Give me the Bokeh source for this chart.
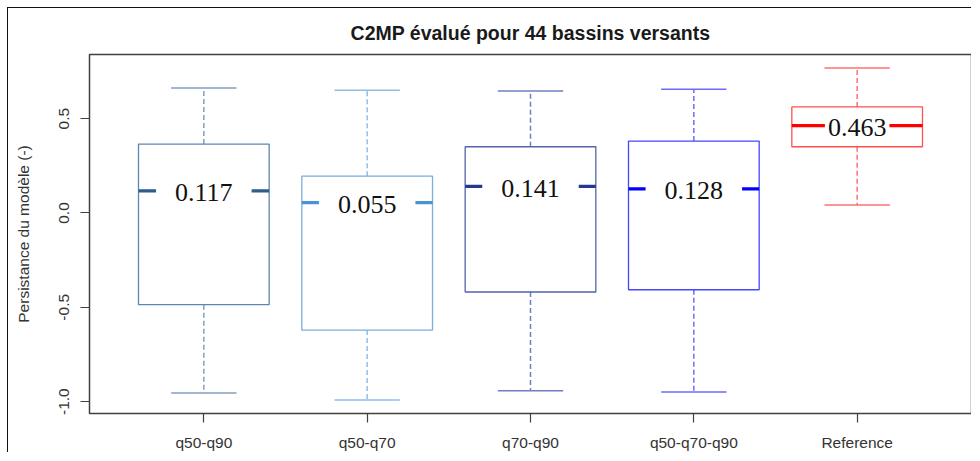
from bokeh.plotting import figure
from bokeh.models import FixedTicker, NumeralTickFormatter, Range1d, ColumnDataSource
from bokeh.embed import file_html
from bokeh.resources import INLINE
from bokeh.core.properties import value

# ---- data ----
categories = ["q50-q90", "q50-q70", "q70-q90", "q50-q70-q90", "Reference"]
whisker_low = [-0.954, -0.991, -0.942, -0.949, 0.042]
q1 = [-0.486, -0.621, -0.419, -0.407, 0.351]
medians = [0.117, 0.055, 0.141, 0.128, 0.463]
q3 = [0.365, 0.195, 0.351, 0.381, 0.562]
whisker_high = [0.662, 0.651, 0.647, 0.656, 0.768]
median_labels = ["0.117", "0.055", "0.141", "0.128", "0.463"]
y_ticks = [-1.0, -0.5, 0.0, 0.5]

# ---- styles ----
line_colors = ["#5f86b0", "#79aede", "#5264aa", "#4646ff", "#ff5050"]
whisker_colors = ["#7f9fc2", "#8fbde6", "#6f7fbf", "#6a6aff", "#ff7070"]
median_colors = ["#2d5d8c", "#4a92d4", "#263a8c", "#0000ff", "#ff0000"]
FONT = "Liberation Sans"
BOX_W = 0.8
CAP_W = 0.4

xs = [i + 1 for i in range(len(categories))]
src = ColumnDataSource(dict(
    x=xs, lo=whisker_low, q1=q1, med=medians, q3=q3, hi=whisker_high,
    lab=median_labels, lc=line_colors, wc=whisker_colors, mc=median_colors,
    bl=[x - BOX_W / 2 for x in xs], br=[x + BOX_W / 2 for x in xs],
    cl=[x - CAP_W / 2 for x in xs], cr=[x + CAP_W / 2 for x in xs],
))

p = figure(
    width=964, height=445,
    min_border_left=81, min_border_top=46, min_border_right=1, min_border_bottom=37,
    x_range=Range1d(0.3, len(categories) + 0.7),
    y_range=Range1d(-1.063, 0.84),
    output_backend="svg", toolbar_location=None,
    title="C2MP évalué pour 44 bassins versants",
)
# outer frame of the picture (left and top edges)
p.styles = {"margin-left": "7px", "margin-top": "7px",
            "border-left": "1px solid #111", "border-top": "1px solid #111"}

p.background_fill_color = "white"
p.border_fill_color = "white"
p.outline_line_color = "#404040"
p.outline_line_width = 1.5
p.grid.visible = False

p.title.align = "center"
p.title.text_font = FONT
p.title.text_font_size = "19.5px"
p.title.text_color = "#1a1a1a"
p.title.standoff = 22

# whiskers (dashed)
p.segment(x0="x", y0="q3", x1="x", y1="hi", source=src, line_color="wc",
          line_dash="5 3", line_width=1.5)
p.segment(x0="x", y0="q1", x1="x", y1="lo", source=src, line_color="wc",
          line_dash="5 3", line_width=1.5)
# caps
p.segment(x0="cl", y0="hi", x1="cr", y1="hi", source=src, line_color="wc", line_width=1.5)
p.segment(x0="cl", y0="lo", x1="cr", y1="lo", source=src, line_color="wc", line_width=1.5)
# boxes
p.quad(left="bl", right="br", bottom="q1", top="q3", source=src,
       fill_color="white", line_color="lc", line_width=1.3)
# medians
p.segment(x0="bl", y0="med", x1="br", y1="med", source=src, line_color="mc", line_width=3.2)

# median labels with white background
n = len(categories)
src_a = ColumnDataSource(dict(x=xs[:n - 1], y=medians[:n - 1], t=median_labels[:n - 1]))
src_b = ColumnDataSource(dict(x=xs[n - 1:], y=medians[n - 1:], t=median_labels[n - 1:]))
for s, pad in ((src_a, 19), (src_b, 3)):
    p.text(x="x", y="y", text="t", source=s, text_font=value("Liberation Serif"),
           text_font_size="26px", text_align="center", text_baseline="middle",
           text_color="#111111", y_offset=2,
           background_fill_color="white", padding=(pad, 0))

# axes
for ax in (p.xaxis, p.yaxis):
    ax.axis_line_color = None
    ax.major_tick_line_color = "#404040"
    ax.major_tick_line_width = 1.2
    ax.major_tick_out = 9
    ax.major_tick_in = 0
    ax.minor_tick_line_color = None
    ax.major_label_text_font = FONT
    ax.major_label_text_font_size = "15.5px"
    ax.major_label_text_color = "#333333"
    ax.axis_label_text_font = FONT
    ax.axis_label_text_font_size = "15.5px"
    ax.axis_label_text_font_style = "normal"
    ax.axis_label_text_color = "#333333"

p.xaxis.ticker = FixedTicker(ticks=xs)
p.xaxis.major_label_overrides = {x: c for x, c in zip(xs, categories)}
p.xaxis.major_label_standoff = 11

p.yaxis.ticker = FixedTicker(ticks=y_ticks)
p.yaxis.formatter = NumeralTickFormatter(format="0.0")
p.yaxis.major_label_orientation = "vertical"
p.yaxis.major_label_standoff = 11
p.yaxis.axis_label = "Persistance du modèle (-)"
p.yaxis.axis_label_standoff = 25

open("out.html", "w").write(file_html(p, INLINE))
